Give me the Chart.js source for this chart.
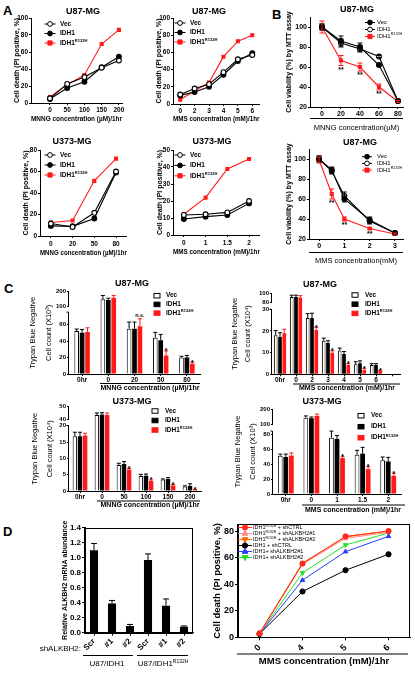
<!DOCTYPE html>
<html>
<head>
<meta charset="utf-8">
<script src="https://cdn.jsdelivr.net/npm/chart.js@4.4.1/dist/chart.umd.min.js"></script>
<style>
  html, body { margin: 0; padding: 0; background: #fff; }
  #fig { position: relative; width: 415px; height: 673px; overflow: hidden; font-family: "Liberation Sans", Arial, sans-serif; }
  .tag { position: absolute; font-weight: bold; font-size: 13px; line-height: 13px; }
  canvas { position: absolute; }
</style>
</head>
<body>
<div id="fig">
  <div class="tag" style="left:3px;top:4px">A</div>
  <div class="tag" style="left:272px;top:8px">B</div>
  <div class="tag" style="left:4px;top:282px">C</div>
  <div class="tag" style="left:3px;top:525px">D</div>
</div>
<script>
// ---- A: cell death, PI positive (%) ----
const a1Dose = [0, 50, 100, 150, 200];
const a1Vec = [5.5, 22.5, 30.5, 41.5, 50];
const a1Idh1 = [4.7, 17.6, 25, 42, 54.5];
const a1Mut = [7, 21.6, 33, 69.4, 86];
const a2Dose = ['0', '2', '3', '4', '5', '6'];
const a2Vec = [11, 18, 23, 37, 52, 57];
const a2Idh1 = [10, 14, 20, 34, 50, 59];
const a2Mut = [5, 15.5, 25, 55, 73, 80];
const a3Dose = ['0', '20', '50', '80'];
const a3Vec = [11.6, 8.4, 21.6, 60];
const a3Idh1 = [9.4, 9, 16.3, 59];
const a3Mut = [12.5, 14.4, 51.3, 72];
const a4Dose = ['0', '1', '1.5', '2'];
const a4Vec = [11.8, 12.2, 13.3, 20];
const a4Idh1 = [9.4, 10.8, 11.8, 18.6];
const a4Mut = [12.2, 22, 38.8, 44.7];
const pctTicks100 = [0, 20, 40, 60, 80, 100];
const pctTicks80 = [0, 20, 40, 60, 80];
const pctTicks50 = [0, 10, 20, 30, 40, 50];

// ---- B: MTT viability (%) ----
const b1Dose = [0, 20, 40, 60, 80];
const b1Vec = [100, 86, 80, 62, 26];
const b1VecErr = [3, 5, 4, 1, 1];
const b1Idh1 = [100, 84, 78, 70.5, 26];
const b1Idh1Err = [3, 4, 3, 1, 1];
const b1Mut = [100, 66.5, 60, 40, 25.5];
const b1MutErr = [6, 5, 4, 3, 1];
const b1Sig = ['', '**', '**', '**', ''];
const b2Dose = [0, 0.5, 1, 2, 3];
const b2DoseTicks = [0, 1, 2, 3];
const b2Vec = [100, 89, 60, 39, 26];
const b2VecErr = [3, 3, 3, 3, 1];
const b2Idh1 = [100, 88, 63, 38, 26];
const b2Idh1Err = [3, 3, 4, 3, 1];
const b2Mut = [99, 65, 40, 30.5, 25];
const b2MutErr = [3, 5, 2, 1, 1];
const b2Sig = ['', '**', '**', '**', ''];
const viabTicks = [20, 40, 60, 80, 100];

// ---- C: trypan blue negative cell counts ----
const c1Cats = ['0hr', '0', '20', '50', '80'];
const c1Vec = [52, 150, 55, 44, 20];
const c1VecErr = [2.5, 25, 8, 6.5, 1.5];
const c1Idh1 = [50, 145, 55, 41, 20];
const c1Idh1Err = [4, 12, 8, 7, 2.5];
const c1Mut = [51, 160, 58, 22.5, 12.5];
const c1MutErr = [5, 15, 9, 5.5, 1.8];
const c1Sig = ['', '', 'n.s.', '*', '*'];
const c1Ticks = [0, 20, 40, 60, 100, 200];

const c2Cats = ['0hr', '0', '2', '3', '4', '5', '6'];
const c2Vec = [18, 92, 26, 15.5, 11, 4.6, 4.3];
const c2VecErr = [2.2, 4, 2, 1.2, 1.1, 1.2, 0.6];
const c2Idh1 = [17.2, 92, 26, 14.5, 9.4, 5.1, 4.3];
const c2Idh1Err = [2, 4, 2.2, 1, 1.1, 1.1, 0.6];
const c2Mut = [18.9, 91, 20.5, 10, 4.3, 2, 1.5];
const c2MutErr = [1.9, 4, 1.2, 0.9, 0.7, 0.8, 0.4];
const c2Sig = ['', '', '*', '*', '*', '*', '*'];
const c2Ticks = [0, 10, 20, 30, 80, 100];

const c3Cats = ['0hr', '0', '50', '100', '150', '200'];
const c3Vec = [16.8, 43.5, 8, 4.6, 3.5, 1.4];
const c3VecErr = [1.2, 1.5, 0.5, 0.5, 0.2, 0.2];
const c3Idh1 = [16.8, 43.8, 8.3, 4.7, 3.7, 1.5];
const c3Idh1Err = [1.2, 1.5, 0.7, 0.5, 0.4, 0.7];
const c3Mut = [17, 43.5, 6.6, 3.1, 1.7, 0.4];
const c3MutErr = [0.7, 1.5, 0.3, 0.3, 0.3, 0.1];
const c3Sig = ['', '', '*', '*', '*', '*'];
const c3Ticks = [0, 5, 10, 15, 20, 40, 50];

const c4Cats = ['0hr', '0', '1', '1.5', '2'];
const c4Vec = [51.8, 143, 76, 53, 45.5];
const c4VecErr = [2, 12, 9, 6, 4.5];
const c4Idh1 = [50, 140, 74.5, 54.5, 44];
const c4Idh1Err = [4, 8, 4.5, 8.5, 5.5];
const c4Mut = [51.8, 155, 48.6, 33.6, 24.5];
const c4MutErr = [3.7, 12, 2.4, 3.4, 3.5];
const c4Sig = ['', '', '*', '*', '*'];
const c4Ticks = [0, 20, 40, 60, 80, 100, 200];

// ---- D ----
const d1Cats = ['Scr', '#1', '#2', 'Scr', '#1', '#2'];
const d1Vals = [1.1, 0.39, 0.09, 0.97, 0.36, 0.08];
const d1Err = [0.09, 0.04, 0.02, 0.08, 0.09, 0.01];
const d1Ticks = [0, 0.2, 0.4, 0.6, 0.8, 1.0, 1.2, 1.4];
const d1Groups = ['U87/IDH1', 'U87/IDH1^{R132H}'];

const d2Dose = ['0', '4', '5', '6'];
const d2Names = ['IDH1^{R132H} + shCTRL', 'IDH1^{R132H} + shALKBH2#1', 'IDH1^{R132H} + shALKBH2#2',
                 'IDH1 + shCTRL', 'IDH1+ shALKBH2#1', 'IDH1+ shALKBH2#2'];
const d2MutCtrl = [3, 55.5, 76, 80];
const d2MutSh1 = [2.5, 55, 74.5, 79];
const d2MutSh2 = [3, 56, 75.5, 80];
const d2WtCtrl = [2.5, 34.5, 50.5, 62.5];
const d2WtSh1 = [2.5, 43, 64.5, 76];
const d2WtSh2 = [2.8, 48.5, 69.5, 78.5];
const d2Ticks = [0, 20, 40, 60, 80];

const RED = '#ff1a1a';
const FONT = '"Liberation Sans", Arial, Helvetica, sans-serif';
Chart.defaults.font.family = FONT;
Chart.defaults.color = '#000';

const fig = document.getElementById('fig');

// text with ^{superscript} parts
function drawRich(ctx, text, x, y, size, weight, align, rot) {
  const parts = [];
  text.split(/(\^\{[^}]*\})/).forEach(s => {
    if (!s) return;
    if (s.startsWith('^{')) parts.push({ s: s.slice(2, -1), sup: true });
    else parts.push({ s: s, sup: false });
  });
  const fontOf = pt => `${weight} ${pt.sup ? size * 0.62 : size}px ${FONT}`;
  let total = 0;
  parts.forEach(pt => { ctx.font = fontOf(pt); pt.w = ctx.measureText(pt.s).width; total += pt.w; });
  ctx.save();
  ctx.translate(x, y);
  if (rot) ctx.rotate(rot);
  ctx.fillStyle = '#000';
  ctx.textBaseline = 'middle';
  ctx.textAlign = 'left';
  let cx = align === 'center' ? -total / 2 : align === 'right' ? -total : 0;
  parts.forEach(pt => {
    ctx.font = fontOf(pt);
    ctx.fillText(pt.s, cx, pt.sup ? -size * 0.35 : 0);
    cx += pt.w;
  });
  ctx.restore();
}

function marker(ctx, style, x, y, r, fill, stroke, rot) {
  ctx.save();
  ctx.fillStyle = fill;
  ctx.strokeStyle = stroke;
  ctx.lineWidth = 1;
  ctx.beginPath();
  if (style === 'rect') {
    ctx.rect(x - r, y - r, 2 * r, 2 * r);
  } else if (style === 'triangle') {
    const s = rot ? -1 : 1;
    ctx.moveTo(x, y - s * r * 1.2);
    ctx.lineTo(x + r * 1.1, y + s * r * 0.7);
    ctx.lineTo(x - r * 1.1, y + s * r * 0.7);
    ctx.closePath();
  } else {
    ctx.arc(x, y, r, 0, Math.PI * 2);
  }
  ctx.fill();
  ctx.stroke();
  ctx.restore();
}

const errorBars = {
  id: 'errorBars',
  afterDatasetsDraw(chart) {
    const p = chart.canvas.$p, ctx = chart.ctx, ys = chart.scales.y;
    const tr = p.tr, both = p.type === 'line', cap = p.cap || 2;
    chart.data.datasets.forEach((ds, di) => {
      if (!ds.err) return;
      const pts = chart.getDatasetMeta(di).data;
      ctx.save();
      ctx.strokeStyle = ds.borderColor;
      ctx.lineWidth = 1;
      pts.forEach((el, i) => {
        const v = ds.src[i], e = ds.err[i];
        if (v == null) return;
        const px = el.x;
        const top = ys.getPixelForValue(tr(v + e));
        const mid = ys.getPixelForValue(tr(v));
        const bot = both ? ys.getPixelForValue(tr(v - e)) : mid;
        ctx.beginPath();
        ctx.moveTo(px, bot); ctx.lineTo(px, top);
        ctx.moveTo(px - cap, top); ctx.lineTo(px + cap, top);
        if (both) { ctx.moveTo(px - cap, bot); ctx.lineTo(px + cap, bot); }
        ctx.stroke();
        const s = ds.sig && ds.sig[i];
        if (s) {
          ctx.fillStyle = '#000';
          ctx.textAlign = 'center';
          if (both) {
            ctx.font = `bold 7px ${FONT}`;
            ctx.textBaseline = 'top';
            ctx.fillText(s, px, bot + 1);
          } else if (s === '*') {
            ctx.font = `bold 7px ${FONT}`;
            ctx.textBaseline = 'alphabetic';
            ctx.fillText(s, px, top + 2.5);
          } else {
            ctx.font = `bold 5.5px ${FONT}`;
            ctx.textBaseline = 'alphabetic';
            ctx.fillText(s, px, top - 1.5);
          }
        }
      });
      ctx.restore();
    });
  }
};

const brokenAxis = {
  id: 'brokenAxis',
  afterDraw(chart) {
    const p = chart.canvas.$p;
    if (!p.brk) return;
    const ys = chart.scales.y, ctx = chart.ctx;
    const ax = Math.round(chart.chartArea.left) - 0.5;
    const lo = ys.getPixelForValue(p.tr(p.brk[0]));
    const up = ys.getPixelForValue(p.tr(p.brk[1]));
    ctx.save();
    ctx.strokeStyle = '#000';
    ctx.lineWidth = 1;
    ctx.beginPath();
    ctx.moveTo(ax, ys.bottom); ctx.lineTo(ax, lo);
    ctx.moveTo(ax - 2, lo); ctx.lineTo(ax, lo);
    ctx.moveTo(ax, up); ctx.lineTo(ax, ys.top);
    ctx.stroke();
    ctx.restore();
  }
};

const notes = {
  id: 'notes',
  afterDraw(chart) {
    const p = chart.canvas.$p, ctx = chart.ctx, ox = p.box[0], oy = p.box[1];
    ctx.save();
    ctx.strokeStyle = '#000';
    ctx.lineWidth = 1;
    if (p.frame) {
      const a = chart.chartArea;
      ctx.strokeRect(Math.round(a.left) - 0.5, Math.round(a.top) + 0.5, Math.round(a.right - a.left), Math.round(a.bottom - a.top));
    }
    (p.lines || []).forEach(ln => {
      ctx.beginPath();
      ctx.moveTo(ln[0] - ox, ln[1] - oy);
      ctx.lineTo(ln[2] - ox, ln[3] - oy);
      ctx.stroke();
    });
    ctx.restore();
    (p.texts || []).forEach(tx => drawRich(ctx, tx.text, tx.x - ox, tx.y - oy, tx.size, tx.weight || 'bold', tx.align || 'center', tx.rot));
  }
};

const keyBox = {
  id: 'keyBox',
  afterDraw(chart) {
    const p = chart.canvas.$p, k = p.key;
    if (!k) return;
    const ctx = chart.ctx, ox = p.box[0], oy = p.box[1];
    chart.data.datasets.forEach((ds, i) => {
      const yy = k.y + i * k.dy - oy, mx = k.mx - ox;
      ctx.save();
      ctx.lineWidth = 1;
      if (k.kind === 'box') {
        ctx.fillStyle = ds.backgroundColor;
        ctx.strokeStyle = ds.borderColor;
        ctx.fillRect(mx - k.w / 2, yy - k.h / 2, k.w, k.h);
        ctx.strokeRect(mx - k.w / 2, yy - k.h / 2, k.w, k.h);
      } else {
        ctx.strokeStyle = ds.borderColor;
        ctx.beginPath();
        ctx.moveTo(mx - k.len / 2, yy);
        ctx.lineTo(mx + k.len / 2, yy);
        ctx.stroke();
        marker(ctx, ds.pointStyle, mx, yy, ds.pointRadius, ds.pointBackgroundColor, ds.pointBorderColor, ds.pointRotation);
      }
      ctx.restore();
      drawRich(ctx, ds.label, k.tx - ox, yy, k.size, k.weight || 'bold', 'left');
    });
  }
};

function breakAt(lowTop, upMin, gap, k) {
  return v => v <= lowTop ? v
    : v < upMin ? lowTop + (v - lowTop) / (upMin - lowTop) * gap
    : lowTop + gap + (v - upMin) * k;
}

const styles = {
  open: { c: '#000', bg: '#fff', ps: 'circle', r: 2.4 },
  fill: { c: '#000', bg: '#000', ps: 'circle', r: 2.4 },
  red: { c: RED, bg: RED, ps: 'rect', r: 2.1 }
};

function series(label, vals, kind, xs, err, sig) {
  const st = styles[kind];
  return {
    label: label,
    data: xs ? vals.map((v, i) => ({ x: xs[i], y: v })) : vals,
    borderColor: st.c, backgroundColor: st.bg,
    pointBackgroundColor: st.bg, pointBorderColor: st.c,
    pointStyle: st.ps, pointRadius: st.r, pointBorderWidth: 1.1,
    borderWidth: 1.1, tension: 0,
    src: vals, err: err, sig: sig
  };
}

function bars(label, vals, kind, err, sig, tr, catPct) {
  const st = styles[kind];
  return {
    label: label,
    data: vals.map(tr),
    backgroundColor: st.bg, borderColor: st.c,
    borderWidth: kind === 'open' ? 1 : 0,
    barPercentage: 0.86, categoryPercentage: catPct,
    src: vals, err: err, sig: sig
  };
}

function dline(label, vals, color, ps, rot) {
  return {
    label: label, data: vals,
    borderColor: color, backgroundColor: color,
    pointBackgroundColor: color, pointBorderColor: color,
    pointStyle: ps, pointRotation: rot || 0, pointRadius: 2.6, pointBorderWidth: 1,
    borderWidth: 1, tension: 0
  };
}

function build(p) {
  const [bx, by, bw, bh] = p.box;
  const [l, t, r, b] = p.plot;
  const cv = document.createElement('canvas');
  cv.width = bw;
  cv.height = bh;
  cv.style.left = bx + 'px';
  cv.style.top = by + 'px';
  cv.style.width = bw + 'px';
  cv.style.height = bh + 'px';
  p.tr = p.tr || (v => v);
  cv.$p = p;
  fig.appendChild(cv);

  const tr = p.tr;
  const yLabels = p.y.labels || p.y.ticks.map(String);
  const ylh = p.yt.lh || 1.2;
  const x = {
    type: p.x.type || 'category',
    offset: p.x.type !== 'linear',
    grid: { display: true, drawOnChartArea: false, offset: false, tickLength: p.x.tick || 2, color: '#000' },
    border: { display: true, color: '#000', width: 1 },
    ticks: {
      color: '#000', autoSkip: false, padding: p.x.pad == null ? 1 : p.x.pad,
      font: { size: p.x.size, weight: 'bold' },
      minRotation: p.x.rot || 0, maxRotation: p.x.rot || 0
    },
    afterFit: s => { s.height = by + bh - b; },
    title: { display: false }
  };
  if (p.x.type === 'linear') {
    x.min = p.x.min;
    x.max = p.x.max;
    x.afterBuildTicks = s => { s.ticks = p.x.ticks.map(v => ({ value: v })); };
    x.ticks.callback = (v, i) => String(p.x.ticks[i]);
  }
  if (p.xt) {
    x.title = {
      display: true, text: p.xt.text, color: '#000',
      font: { size: p.xt.size, weight: p.xt.weight || 'bold', lineHeight: 1.2 },
      padding: { top: 0, bottom: by + bh - p.xt.y - p.xt.size * 0.6 }
    };
  }
  const y = {
    type: 'linear', min: p.y.min, max: tr(p.y.top),
    grid: { display: true, drawOnChartArea: false, tickLength: p.y.tick || 2, color: '#000' },
    border: { display: !p.brk, color: '#000', width: 1 },
    ticks: {
      color: '#000', autoSkip: false, padding: 1,
      font: { size: p.y.size, weight: 'bold' },
      callback: (v, i) => yLabels[i]
    },
    afterBuildTicks: s => { s.ticks = p.y.ticks.map(v => ({ value: tr(v) })); },
    afterFit: s => { s.width = l - bx; },
    title: {
      display: true, text: p.yt.text, color: '#000',
      font: { size: p.yt.size, weight: p.yt.weight || 'bold', lineHeight: ylh },
      padding: { top: p.yt.x - bx - p.yt.size * ylh / 2, bottom: 0 }
    }
  };

  return new Chart(cv, {
    type: p.type,
    data: { labels: p.labels, datasets: p.datasets },
    options: {
      responsive: false,
      animation: false,
      devicePixelRatio: 1,
      layout: { padding: { left: 0, top: t - by, right: bx + bw - r, bottom: 0 } },
      scales: { x: x, y: y },
      plugins: { legend: { display: false }, tooltip: { enabled: false } }
    },
    plugins: [errorBars, brokenAxis, notes, keyBox]
  });
}

// ================= A =================
build({
  box: [0, 5, 132, 123], plot: [31, 18, 122, 103], type: 'line',
  datasets: [
    series('Vec', a1Vec, 'open', a1Dose),
    series('IDH1', a1Idh1, 'fill', a1Dose),
    series('IDH1^{R132H}', a1Mut, 'red', a1Dose)
  ],
  x: { type: 'linear', min: -55, max: 209, ticks: a1Dose, size: 6.5 },
  y: { min: 0, top: 100, ticks: pctTicks100, size: 6.5 },
  xt: { text: 'MNNG concentration (µM)/1hr', y: 119, size: 6.5 },
  yt: { text: 'Cell death (PI positive, %)', x: 17, size: 7 },
  key: { kind: 'line', y: 24, dy: 9.5, mx: 50, len: 11, tx: 60, size: 6.5 },
  texts: [{ text: 'U87-MG', x: 83, y: 12, size: 9 }]
});

build({
  box: [132, 5, 133, 123], plot: [173, 18, 259.5, 104], type: 'line',
  labels: a2Dose,
  datasets: [
    series('Vec', a2Vec, 'open'),
    series('IDH1', a2Idh1, 'fill'),
    series('IDH1^{R132H}', a2Mut, 'red')
  ],
  x: { size: 6.5 },
  y: { min: 0, top: 100, ticks: pctTicks100, size: 6.5 },
  xt: { text: 'MMS concentration (mM)/1hr', y: 119, size: 6.5 },
  yt: { text: 'Cell death (PI positive, %)', x: 159, size: 7 },
  key: { kind: 'line', y: 23, dy: 9.5, mx: 180, len: 11, tx: 190, size: 6.5 },
  texts: [{ text: 'U87-MG', x: 209, y: 12, size: 9 }]
});

build({
  box: [0, 137, 132, 125], plot: [40, 150, 127, 236], type: 'line',
  labels: a3Dose,
  datasets: [
    series('Vec', a3Vec, 'open'),
    series('IDH1', a3Idh1, 'fill'),
    series('IDH1^{R132H}', a3Mut, 'red')
  ],
  x: { size: 6.5, pad: 2 },
  y: { min: 0, top: 80, ticks: pctTicks80, size: 6.5 },
  xt: { text: 'MNNG concentration (µM)/1hr', y: 253, size: 6.5 },
  yt: { text: 'Cell death (PI positive, %)', x: 26, size: 7 },
  key: { kind: 'line', y: 155, dy: 10, mx: 50, len: 11, tx: 60, size: 6.5 },
  texts: [{ text: 'U373-MG', x: 72, y: 142, size: 9 }]
});

build({
  box: [132, 137, 133, 125], plot: [173, 150, 260, 235], type: 'line',
  labels: a4Dose,
  datasets: [
    series('Vec', a4Vec, 'open'),
    series('IDH1', a4Idh1, 'fill'),
    series('IDH1^{R132H}', a4Mut, 'red')
  ],
  x: { size: 6.5, pad: 2 },
  y: { min: 0, top: 50, ticks: pctTicks50, size: 6.5 },
  xt: { text: 'MMS concentration (mM)/1hr', y: 252.5, size: 6.5 },
  yt: { text: 'Cell death (PI positive, %)', x: 160, size: 7 },
  key: { kind: 'line', y: 155, dy: 10.4, mx: 180, len: 11, tx: 190, size: 6.5 },
  texts: [{ text: 'U373-MG', x: 212, y: 142, size: 9 }]
});

// ================= B =================
build({
  box: [272, 4, 143, 133], plot: [310, 17, 403, 107], type: 'line', cap: 2.5,
  datasets: [
    series('Vec', b1Vec, 'fill', b1Dose, b1VecErr),
    series('IDH1', b1Idh1, 'open', b1Dose, b1Idh1Err),
    series('IDH1^{R132H}', b1Mut, 'red', b1Dose, b1MutErr, b1Sig)
  ],
  x: { type: 'linear', min: -12.6, max: 85.3, ticks: b1Dose, size: 7 },
  y: { min: 20, top: 110, ticks: viabTicks, size: 7 },
  xt: { text: 'MNNG concentration(µM)', y: 128, size: 7.5, weight: 'normal' },
  yt: { text: 'Cell viability (%) by MTT assay', x: 289, size: 7 },
  key: { kind: 'line', y: 22.5, dy: 7, mx: 370, len: 10, tx: 377, size: 6, weight: 'normal' },
  lines: [[310, 118.5, 403, 118.5]],
  texts: [{ text: 'U87-MG', x: 357, y: 10, size: 9 }]
});

build({
  box: [272, 138, 143, 134], plot: [309, 149, 403, 239], type: 'line', cap: 2.5,
  datasets: [
    series('Vec', b2Vec, 'fill', b2Dose, b2VecErr),
    series('IDH1', b2Idh1, 'open', b2Dose, b2Idh1Err),
    series('IDH1^{R132H}', b2Mut, 'red', b2Dose, b2MutErr, b2Sig)
  ],
  x: { type: 'linear', min: -0.4, max: 3.32, ticks: b2DoseTicks, size: 7 },
  y: { min: 20, top: 110, ticks: viabTicks, size: 7 },
  xt: { text: 'MMS concentration(mM)', y: 261, size: 7.5, weight: 'normal' },
  yt: { text: 'Cell viability (%) by MTT assay', x: 289, size: 7 },
  key: { kind: 'line', y: 156.7, dy: 6.7, mx: 367, len: 10, tx: 377, size: 6, weight: 'normal' },
  lines: [[309, 252.5, 403, 252.5]],
  texts: [{ text: 'U87-MG', x: 360, y: 143, size: 9 }]
});

// ================= C =================
const trC1 = breakAt(75, 100, 6.5, 0.183);
build({
  box: [20, 278, 185, 115], plot: [69, 291.7, 200, 374], type: 'bar', tr: trC1, brk: [75, 100],
  labels: c1Cats,
  datasets: [
    bars('Vec', c1Vec, 'open', c1VecErr, null, trC1, 0.62),
    bars('IDH1', c1Idh1, 'fill', c1Idh1Err, null, trC1, 0.62),
    bars('IDH1^{R132H}', c1Mut, 'red', c1MutErr, c1Sig, trC1, 0.62)
  ],
  x: { size: 6.5, pad: 0 },
  y: { min: 0, top: 200, ticks: c1Ticks, size: 6 },
  yt: { text: ['Trypan Blue Negative', 'Cell count (X10³)'], x: 33, size: 7.5, weight: 'normal', lh: 2.1 },
  key: { kind: 'box', y: 295.7, dy: 8.7, mx: 157, w: 6, h: 4.5, tx: 166, size: 6.5 },
  lines: [[100, 383.5, 200, 383.5]],
  texts: [
    { text: 'U87-MG', x: 132, y: 284, size: 9 },
    { text: 'MNNG concentration (µM)/1hr', x: 150, y: 388.5, size: 7 }
  ]
});

const trC2 = breakAt(30, 80, 3.05, 0.217);
build({
  box: [215, 278, 200, 115], plot: [272, 293.3, 400, 374.3], type: 'bar', tr: trC2, brk: [30, 80],
  labels: c2Cats.concat(['']),
  datasets: [
    bars('Vec', c2Vec, 'open', c2VecErr, null, trC2, 0.8),
    bars('IDH1', c2Idh1, 'fill', c2Idh1Err, null, trC2, 0.8),
    bars('IDH1^{R132H}', c2Mut, 'red', c2MutErr, c2Sig, trC2, 0.8)
  ],
  x: { size: 6.5, pad: 0 },
  y: { min: 0, top: 100, ticks: c2Ticks, size: 6 },
  yt: { text: ['Trypan Blue Negative', 'Cell count (X10⁴)'], x: 235, size: 7.5, weight: 'normal', lh: 1.75 },
  key: { kind: 'box', y: 295, dy: 9.2, mx: 355, w: 6, h: 4.5, tx: 365, size: 6.5 },
  lines: [[293, 384, 400, 384]],
  texts: [
    { text: 'U87-MG', x: 320, y: 285, size: 9 },
    { text: 'MMS concentration (mM)/1hr', x: 347, y: 388.5, size: 7 }
  ]
});

const trC3 = breakAt(20, 40, 1.96, 0.386);
build({
  box: [20, 397, 185, 116], plot: [69, 406.7, 201, 491], type: 'bar', tr: trC3, brk: [20, 40],
  labels: c3Cats,
  datasets: [
    bars('Vec', c3Vec, 'open', c3VecErr, null, trC3, 0.7),
    bars('IDH1', c3Idh1, 'fill', c3Idh1Err, null, trC3, 0.7),
    bars('IDH1^{R132H}', c3Mut, 'red', c3MutErr, c3Sig, trC3, 0.7)
  ],
  x: { size: 6.5, pad: 0 },
  y: { min: 0, top: 50, ticks: c3Ticks, size: 6 },
  yt: { text: ['Trypan Blue Negative', 'Cell count (X10⁴)'], x: 35, size: 7.5, weight: 'normal', lh: 2 },
  key: { kind: 'box', y: 411, dy: 9.5, mx: 155, w: 6, h: 4.5, tx: 165, size: 6.5 },
  lines: [[97, 501, 200, 501]],
  texts: [
    { text: 'U373-MG', x: 132, y: 402, size: 9 },
    { text: 'MNNG concentration (µM)/1hr', x: 150, y: 505.5, size: 7 }
  ]
});

const trC4 = breakAt(85, 100, 9.1, 0.2075);
build({
  box: [215, 397, 200, 118], plot: [273, 409, 401, 494], type: 'bar', tr: trC4, brk: [85, 100],
  labels: c4Cats,
  datasets: [
    bars('Vec', c4Vec, 'open', c4VecErr, null, trC4, 0.65),
    bars('IDH1', c4Idh1, 'fill', c4Idh1Err, null, trC4, 0.65),
    bars('IDH1^{R132H}', c4Mut, 'red', c4MutErr, c4Sig, trC4, 0.65)
  ],
  x: { size: 6.5, pad: 0 },
  y: { min: 0, top: 200, ticks: c4Ticks, size: 6 },
  yt: { text: ['Trypan Blue Negative', 'Cell count (X10³)'], x: 238, size: 7.5, weight: 'normal', lh: 1.95 },
  key: { kind: 'box', y: 415.7, dy: 11, mx: 361, w: 6, h: 4.5, tx: 371, size: 6.5 },
  lines: [[302, 505, 405, 505]],
  texts: [
    { text: 'U373-MG', x: 322, y: 402, size: 9 },
    { text: 'MMS concentration (mM)/1hr', x: 353, y: 510, size: 7 }
  ]
});

// ================= D =================
build({
  box: [0, 520, 200, 153], plot: [85, 527.7, 193, 632.7], type: 'bar', cap: 3, frame: true,
  labels: d1Cats,
  datasets: [{
    label: 'ALKBH2', data: d1Vals, src: d1Vals, err: d1Err,
    backgroundColor: '#000', borderColor: '#000', borderWidth: 0,
    barPercentage: 0.45, categoryPercentage: 1
  }],
  x: { size: 8, rot: 45, tick: 3, pad: 1 },
  y: { min: 0, top: 1.4, ticks: d1Ticks, labels: d1Ticks.map(v => v.toFixed(1)), size: 8, tick: 3 },
  yt: { text: 'Relative ALKBH2 mRNA abundance', x: 65, size: 7 },
  lines: [[83, 655.5, 133, 655.5], [137, 655.5, 188, 655.5]],
  texts: [
    { text: 'shALKBH2:', x: 81, y: 649, size: 8, weight: 'normal', align: 'right' },
    { text: d1Groups[0], x: 107, y: 664, size: 8, weight: 'normal' },
    { text: d1Groups[1], x: 163, y: 664, size: 8, weight: 'normal' }
  ]
});

build({
  box: [198, 518, 217, 155], plot: [238, 524, 410, 637.3], type: 'line', frame: true,
  labels: d2Dose,
  datasets: [
    dline(d2Names[0], d2MutCtrl, '#ff2a1a', 'circle'),
    dline(d2Names[1], d2MutSh1, '#ff8a8a', 'triangle'),
    dline(d2Names[2], d2MutSh2, '#ff6a00', 'triangle', 180),
    dline(d2Names[3], d2WtCtrl, '#000000', 'circle'),
    dline(d2Names[4], d2WtSh1, '#2a3cff', 'triangle'),
    dline(d2Names[5], d2WtSh2, '#22e022', 'triangle', 180)
  ],
  x: { size: 9, rot: 45, tick: 3, pad: 2 },
  y: { min: 0, top: 85, ticks: d2Ticks, size: 9, tick: 3 },
  xt: { text: 'MMS concentration (mM)/1hr', y: 661, size: 9.5 },
  yt: { text: 'Cell death (PI positive, %)', x: 217, size: 9.5 },
  key: { kind: 'line', y: 527.5, dy: 6, mx: 245, len: 14, tx: 253, size: 5.5, weight: 'normal' },
  lines: [[237, 654, 408, 654]]
});
</script>
</body>
</html>
